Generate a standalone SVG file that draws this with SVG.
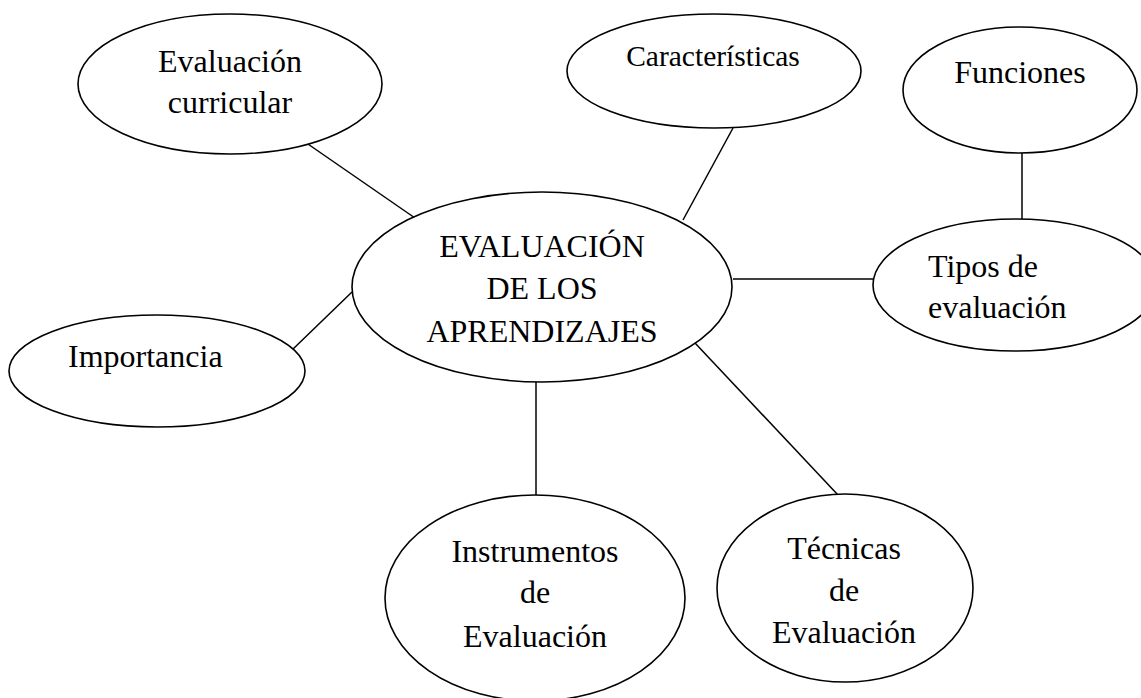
<svg xmlns="http://www.w3.org/2000/svg" width="1141" height="698" viewBox="0 0 1141 698">
<style>
.n{fill:#fff;stroke:#000;stroke-width:1.6}
.c line{stroke:#000;stroke-width:1.5}
text{font-family:"Liberation Serif","Times New Roman",serif;font-size:32px;fill:#000}
.m{text-anchor:middle}
</style>
<rect width="1141" height="698" fill="#fff"/>
<g class="c" id="connectors">
<line x1="305" y1="142" x2="415" y2="218"/>
<line x1="733" y1="128" x2="683" y2="220"/>
<line x1="1022" y1="153" x2="1022" y2="219"/>
<line x1="733" y1="279" x2="873" y2="279"/>
<line x1="292" y1="350" x2="352" y2="292"/>
<line x1="536" y1="382" x2="536" y2="495"/>
<line x1="695" y1="343" x2="838" y2="495"/>
</g>
<g id="evaluacion-curricular">
<ellipse class="n" cx="230" cy="84" rx="152" ry="70"/>
<text class="m" x="230" y="72">Evaluación</text>
<text class="m" x="230" y="113">curricular</text>
</g>
<g id="caracteristicas">
<ellipse class="n" cx="714" cy="71" rx="147" ry="57"/>
<text class="m" x="713" y="66" style="font-size:29.5px">Características</text>
</g>
<g id="funciones">
<ellipse class="n" cx="1020" cy="90" rx="117" ry="63"/>
<text class="m" x="1020" y="83">Funciones</text>
</g>
<g id="tipos">
<ellipse class="n" cx="1015" cy="285" rx="142" ry="66"/>
<text x="928" y="277">Tipos de</text>
<text x="928" y="318">evaluación</text>
</g>
<g id="importancia">
<ellipse class="n" cx="157" cy="371" rx="148" ry="56"/>
<text x="68" y="367">Importancia</text>
</g>
<g id="central">
<ellipse class="n" cx="542" cy="287" rx="190" ry="95"/>
<text class="m" x="542" y="257">EVALUACIÓN</text>
<text class="m" x="542" y="299">DE LOS</text>
<text class="m" x="542" y="342">APRENDIZAJES</text>
</g>
<g id="instrumentos">
<ellipse class="n" cx="535" cy="598" rx="150" ry="103"/>
<text class="m" x="535" y="562">Instrumentos</text>
<text class="m" x="535" y="603">de</text>
<text class="m" x="535" y="647">Evaluación</text>
</g>
<g id="tecnicas">
<ellipse class="n" cx="845" cy="588" rx="128" ry="94"/>
<text class="m" x="844" y="559">Técnicas</text>
<text class="m" x="844" y="601">de</text>
<text class="m" x="844" y="643">Evaluación</text>
</g>
</svg>
